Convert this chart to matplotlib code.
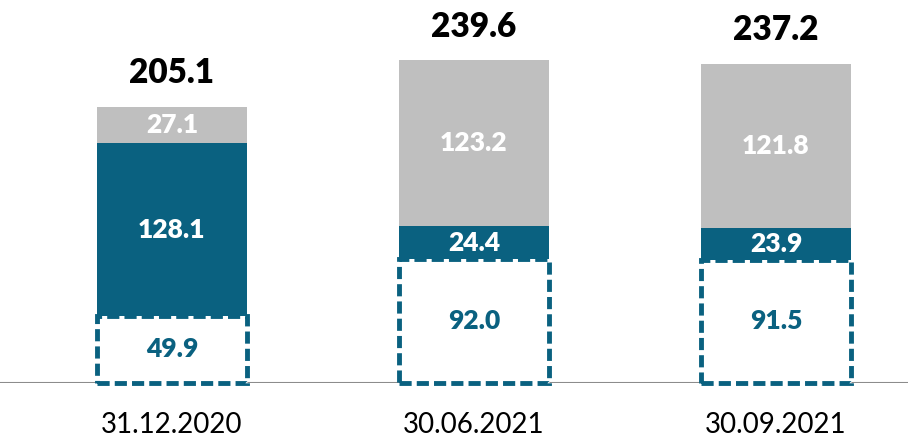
import matplotlib
matplotlib.use("Agg")
import matplotlib.pyplot as plt

categories = ["31.12.2020", "30.06.2021", "30.09.2021"]
bottom_vals = [49.9, 92.0, 91.5]
middle_vals = [128.1, 24.4, 23.9]
top_vals = [27.1, 123.2, 121.8]
totals = [205.1, 239.6, 237.2]

TEAL = "#0A6180"
GRAY = "#BFBFBF"
FONT = ["Lato", "DejaVu Sans"]

fig = plt.figure(figsize=(9.08, 4.38), dpi=100)
ax = fig.add_axes([0, 55 / 438, 1, 383 / 438])
x = list(range(len(categories)))
w = 0.497

mid_bottom = bottom_vals
top_bottom = [b + m for b, m in zip(bottom_vals, middle_vals)]
ax.bar(x, middle_vals, w, bottom=mid_bottom, color=TEAL, zorder=2)
ax.bar(x, top_vals, w, bottom=top_bottom, color=GRAY, zorder=2)
ax.bar(x, bottom_vals, w, color="white", edgecolor=TEAL, linewidth=3.5,
       linestyle=(0, (2.5, 1.05)), zorder=3, clip_on=False)

ax.axhline(0, color="#8C8C8C", lw=1.5, zorder=1)

for i in x:
    ax.text(i, bottom_vals[i] / 2, f"{bottom_vals[i]:.1f}", ha="center", va="center",
            color=TEAL, fontsize=19, fontweight="heavy", family=FONT, zorder=4)
    ax.text(i, mid_bottom[i] + middle_vals[i] / 2, f"{middle_vals[i]:.1f}", ha="center",
            va="center", color="white", fontsize=19, fontweight="heavy", family=FONT, zorder=4)
    ax.text(i, top_bottom[i] + top_vals[i] / 2, f"{top_vals[i]:.1f}", ha="center",
            va="center", color="white", fontsize=19, fontweight="heavy", family=FONT, zorder=4)
    ax.text(i, totals[i] + 25, f"{totals[i]:.1f}", ha="center", va="center",
            color="black", fontsize=24, fontweight="heavy", family=FONT)

ax.set_xlim(-172 / 302, (908 - 172) / 302)
ax.set_ylim(0, 383 / 1.346)
ax.set_xticks(x)
ax.set_xticklabels(categories, fontsize=20, family=FONT)
ax.tick_params(axis="x", length=0, pad=21)
ax.set_yticks([])
for s in ax.spines.values():
    s.set_visible(False)
ax.patch.set_alpha(0)

fig.savefig("out.png", dpi=100)
